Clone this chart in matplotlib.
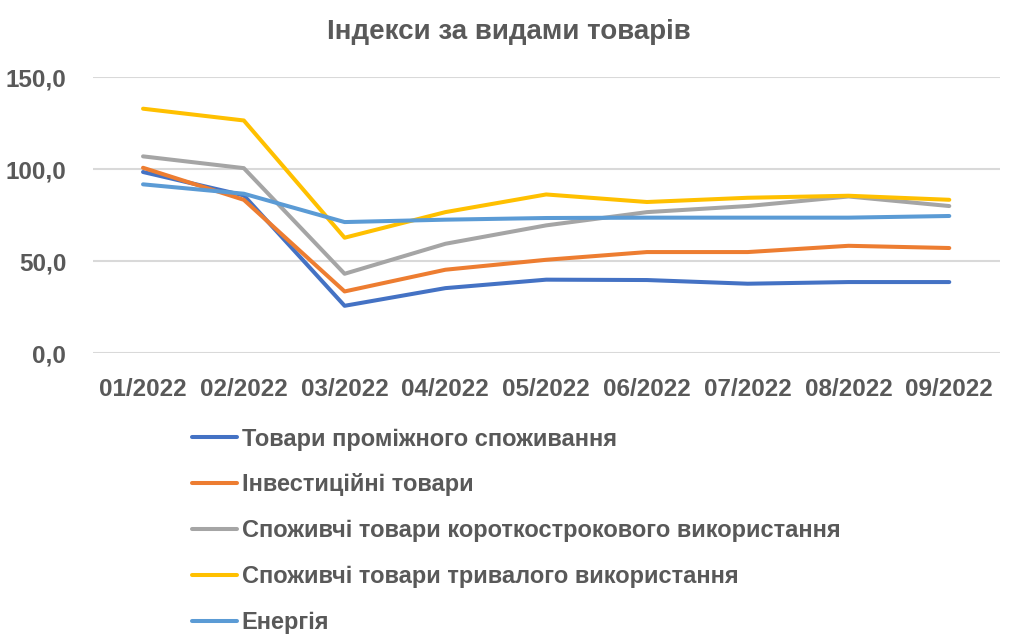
import numpy as np
from matplotlib import pyplot as plt

months = ['01/2022', '02/2022', '03/2022', '04/2022', '05/2022',
          '06/2022', '07/2022', '08/2022', '09/2022']

intermediate = [98.4, 85.7, 25.7, 35.3, 39.9, 39.7, 37.7, 38.6, 38.6]
investment = [100.7, 83.3, 33.5, 45.3, 50.7, 54.9, 54.9, 58.3, 57.1]
short_use = [106.9, 100.5, 43.1, 59.4, 69.4, 76.6, 79.9, 85.1, 79.9]
durable = [132.8, 126.4, 62.7, 76.6, 86.2, 82.1, 84.4, 85.5, 83.3]
energy = [91.7, 86.6, 71.2, 72.5, 73.4, 73.6, 73.6, 73.6, 74.5]

names = ['Товари проміжного споживання',
         'Інвестиційні товари',
         'Споживчі товари короткострокового використання',
         'Споживчі товари тривалого використання',
         'Енергія']
colors = ['#4472C4', '#ED7D31', '#A5A5A5', '#FFC000', '#5B9BD5']

plt.rcParams['font.family'] = ['Liberation Sans Narrow', 'Liberation Sans', 'DejaVu Sans']
plt.rcParams['font.weight'] = 'bold'
txt = '#595959'

fh = plt.figure(figsize=(10.18, 6.42), dpi=100)
ah = fh.add_axes([0.091, 0.450, 0.891, 0.430])

x = np.arange(len(months))
for vals, nm, c in zip([intermediate, investment, short_use, durable, energy], names, colors):
    ah.plot(x, vals, color=c, lw=2.9, label=nm, solid_capstyle='round', solid_joinstyle='round')

ah.set_xlim(-0.5, len(months) - 0.5)
ah.set_ylim(0, 150)
ah.set_yticks([0, 50, 100, 150])
ah.set_yticklabels(['0,0', '50,0', '100,0', '150,0'])
ah.set_xticks(x)
ah.set_xticklabels(months)
ah.tick_params(length=0, labelsize=17.5, labelcolor=txt)
ah.tick_params(axis='x', pad=18)
ah.tick_params(axis='y', pad=19)
ah.grid(axis='y', color='#D9D9D9', lw=1.5)
ah.set_axisbelow(True)
for s in ah.spines.values():
    s.set_visible(False)

fh.suptitle('Індекси за видами товарів', x=0.5, y=0.97, fontsize=20, color=txt, fontweight='bold')

leg = fh.legend(loc='upper left', bbox_to_anchor=(0.1886, 0.334), frameon=False,
                fontsize=17, labelcolor=txt, handlelength=1.9, handletextpad=0.2,
                labelspacing=0.97, borderaxespad=0, borderpad=0)

plt.savefig('out.png', dpi=100)
